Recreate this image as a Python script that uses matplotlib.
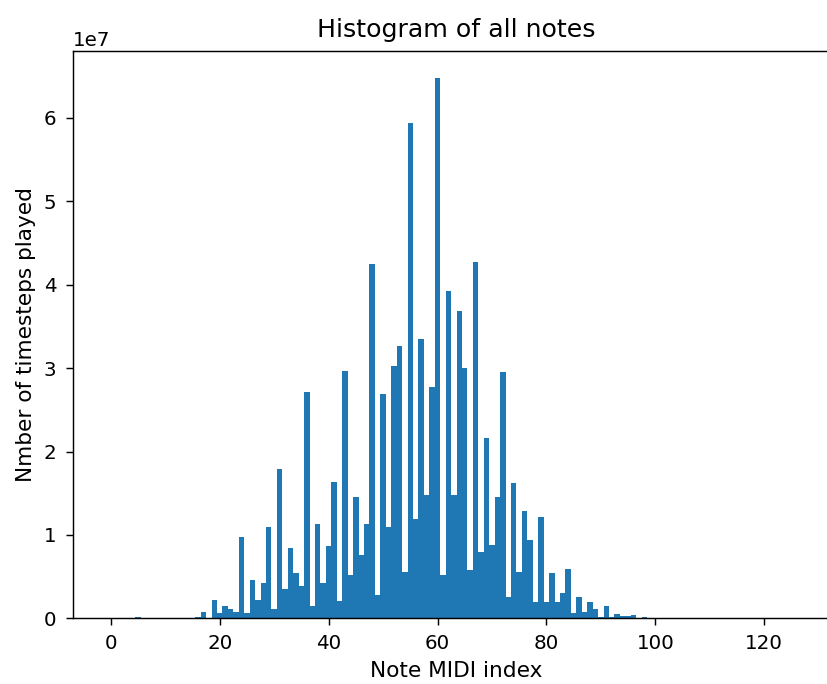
#!/usr/bin/env python3
import numpy as np
import matplotlib
matplotlib.use("Agg")
import matplotlib.pyplot as plt

# MIDI note index and timesteps played (in millions)
notes = np.arange(128)
counts_m = np.zeros(128)
counts_m[5] = 0.2
counts_m[15:99] = [
    0.05, 0.12, 0.72, 0.05, 2.2,              # 15-19
    0.6, 1.48, 1.12, 0.76, 9.78,              # 20-24
    0.6, 4.6, 2.2, 4.27, 10.9,                # 25-29
    1.1, 17.9, 3.5, 8.46, 5.4,                # 30-34
    3.9, 27.1, 1.48, 11.3, 4.27,              # 35-39
    8.7, 16.3, 2.08, 29.7, 5.2,               # 40-44
    14.6, 7.6, 11.3, 42.5, 2.8,               # 45-49
    26.9, 11.0, 30.2, 32.6, 5.5,              # 50-54
    59.4, 11.9, 33.5, 14.8, 27.7,             # 55-59
    64.8, 5.2, 39.2, 14.8, 36.9,              # 60-64
    30.0, 5.8, 42.7, 8.0, 21.6,               # 65-69
    8.8, 14.5, 29.5, 2.6, 16.2,               # 70-74
    5.5, 12.9, 9.4, 2.0, 12.2,                # 75-79
    2.0, 5.4, 2.0, 3.0, 5.9,                  # 80-84
    0.6, 2.6, 0.76, 1.9, 1.08,                # 85-89
    0.2, 1.5, 0.2, 0.56, 0.25,                # 90-94
    0.25, 0.4, 0.05, 0.2,                     # 95-98
]
counts = counts_m * 1e6

plt.rcParams["font.size"] = 12
plt.rcParams["xtick.labelsize"] = 11
plt.rcParams["ytick.labelsize"] = 11
plt.rcParams["xtick.major.size"] = 3.9
plt.rcParams["ytick.major.size"] = 3.9
plt.rcParams["xtick.major.pad"] = 5
plt.rcParams["ytick.major.pad"] = 5.5

fig = plt.figure(figsize=(827 / 130, 684 / 130), dpi=130)
# axes run past the right edge, like the cropped original
ax = fig.add_axes([0.0886, 0.0961, 0.927, 0.8294])
ax.bar(notes, counts, width=1.0)
ax.set_title("Histogram of all notes", fontsize=14, pad=7.5)
ax.set_xlabel("Note MIDI index")
ax.set_ylabel("Nmber of timesteps played")

fig.savefig("out.png", dpi=130)
